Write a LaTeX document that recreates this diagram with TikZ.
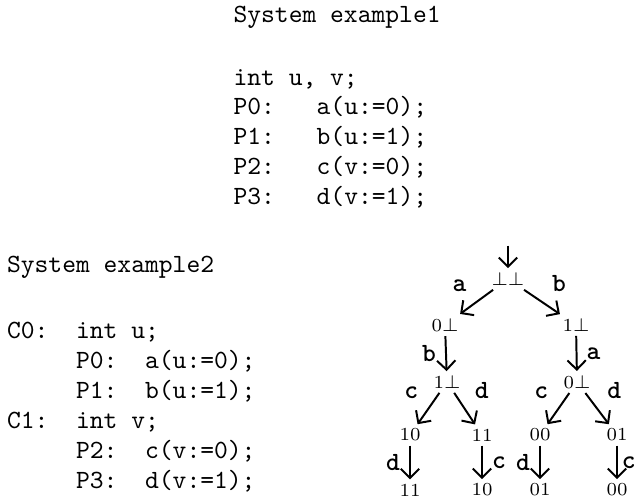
\documentclass[tikz,border=0pt]{standalone}
\usetikzlibrary{
    arrows.meta,
    positioning
}
\tikzset{
    code/.style={anchor=base west, inner sep=0pt, font=\ttfamily},
    state/.style={inner sep=1.5pt, font=\scriptsize},
    move/.style={-{Straight Barb[length=3.5pt,width=7pt]}, line width=0.75pt},
    action/.style={font=\ttfamily\bfseries, inner sep=3.5pt}
}

\begin{document}
\begin{tikzpicture}

    \useasboundingbox (0, 0) rectangle (8.5, 6.6825);

    % shared variables
    \node[code] (sys1-title) at (3.114, 6.388) {System example1};
    \node[code] (sys1-decl) at (3.114, 5.533) {int u, v;};
    \node[code] (sys1-p0) at (3.114, 5.146) {P0:};
    \node[code] (sys1-p1) at (3.114, 4.745) {P1:};
    \node[code] (sys1-p2) at (3.114, 4.344) {P2:};
    \node[code] (sys1-p3) at (3.114, 3.943) {P3:};
    \node[code] (sys1-a) at (4.225, 5.146) {a(u:=0);};
    \node[code] (sys1-b) at (4.225, 4.745) {b(u:=1);};
    \node[code] (sys1-c) at (4.225, 4.344) {c(v:=0);};
    \node[code] (sys1-d) at (4.225, 3.943) {d(v:=1);};

    % one variable per component
    \node[code] (sys2-title) at (0.087, 3.047) {System example2};
    \node[code] (sys2-c0) at (0.087, 2.165) {C0:};
    \node[code] (sys2-c1) at (0.087, 0.962) {C1:};
    \node[code] (sys2-int-u) at (1.010, 2.165) {int u;};
    \node[code] (sys2-int-v) at (1.010, 0.962) {int v;};
    \node[code] (sys2-p0) at (1.010, 1.764) {P0:};
    \node[code] (sys2-p1) at (1.010, 1.363) {P1:};
    \node[code] (sys2-p2) at (1.010, 0.561) {P2:};
    \node[code] (sys2-p3) at (1.010, 0.160) {P3:};
    \node[code] (sys2-a) at (1.932, 1.764) {a(u:=0);};
    \node[code] (sys2-b) at (1.932, 1.363) {b(u:=1);};
    \node[code] (sys2-c) at (1.932, 0.561) {c(v:=0);};
    \node[code] (sys2-d) at (1.932, 0.160) {d(v:=1);};

    % state tree
    \node[state] (s) at (6.789, 2.954) {$\bot\bot$};
    \coordinate[above=0.3cm of s] (init);
    \node[state] (s-a) at (5.947, 2.339) {0$\bot$};
    \node[state] (s-b) at (7.698, 2.339) {1$\bot$};
    \node[state] (s-ab) at (5.974, 1.577) {1$\bot$};
    \node[state] (s-ba) at (7.712, 1.577) {0$\bot$};
    \node[state] (s-abc) at (5.480, 0.869) {10};
    \node[state] (s-abd) at (6.442, 0.869) {11};
    \node[state] (s-bac) at (7.217, 0.869) {00};
    \node[state] (s-bad) at (8.246, 0.869) {01};
    \node[state] (s-abcd) at (5.480, 0.134) {11};
    \node[state] (s-abdc) at (6.442, 0.134) {10};
    \node[state] (s-bacd) at (7.217, 0.134) {01};
    \node[state] (s-badc) at (8.246, 0.134) {00};

    \draw[move] (init) -- (s);
    \draw[move] (s) -- (s-a) node[action, midway, above left] {a};
    \draw[move] (s) -- (s-b) node[action, midway, above right] {b};
    \draw[move] (s-a) -- (s-ab) node[action, midway, left] {b};
    \draw[move] (s-b) -- (s-ba) node[action, midway, right] {a};
    \draw[move] (s-ab) -- (s-abc) node[action, midway, above left] {c};
    \draw[move] (s-ab) -- (s-abd) node[action, midway, above right] {d};
    \draw[move] (s-ba) -- (s-bac) node[action, midway, above left] {c};
    \draw[move] (s-ba) -- (s-bad) node[action, midway, above right] {d};
    \draw[move] (s-abc) -- (s-abcd) node[action, midway, left] {d};
    \draw[move] (s-abd) -- (s-abdc) node[action, midway, right] {c};
    \draw[move] (s-bac) -- (s-bacd) node[action, midway, left] {d};
    \draw[move] (s-bad) -- (s-badc) node[action, midway, right, inner sep=1.5pt] {c};

\end{tikzpicture}
\end{document}
